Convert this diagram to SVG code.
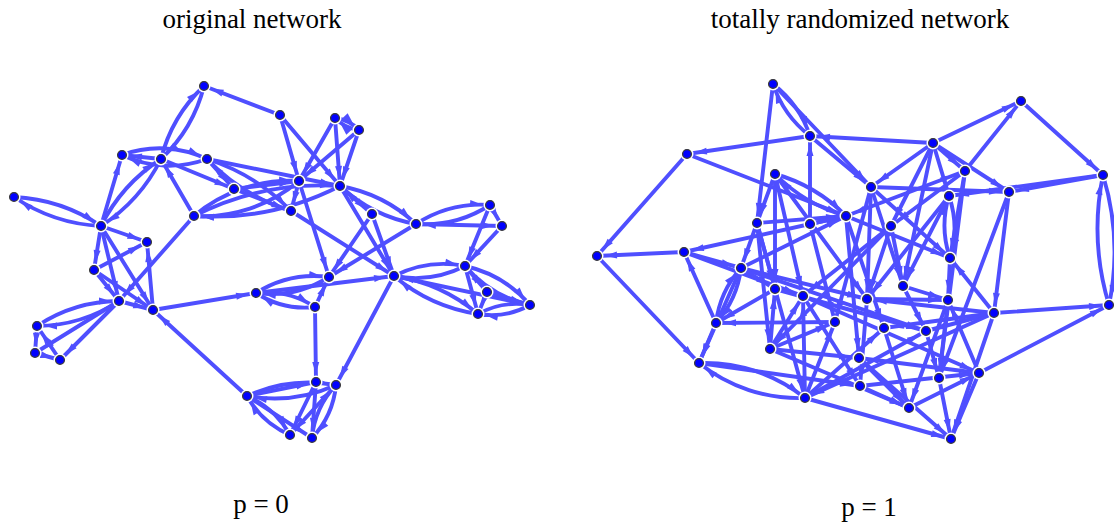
<svg xmlns="http://www.w3.org/2000/svg" width="1114" height="523" viewBox="0 0 1114 523">
<style>
.t{font-family:"Liberation Serif","Times New Roman",serif;font-size:27px;fill:#000;text-anchor:middle}
.e path{stroke:#4f4fff;stroke-width:3.9;fill:none;marker-end:url(#a);stroke-linecap:round}
.h{fill:#fff}
.c{fill:#0000ff;stroke:#3a3a3a;stroke-width:1.3}
</style>
<defs>
<marker id="a" markerUnits="userSpaceOnUse" markerWidth="40" markerHeight="12" viewBox="0 -6 40 12" refX="20" refY="0" orient="auto" overflow="visible">
<path d="M0,-3.5 L12,0 L0,3.5 Z" fill="#4f4fff"/>
</marker>
</defs>
<rect width="1114" height="523" fill="#fff"/>
<text class="t" x="252" y="28">original network</text>
<text class="t" x="860" y="28">totally randomized network</text>
<text class="t" x="261" y="513">p = 0</text>
<text class="t" x="869" y="516">p = 1</text>

<g id="connectors" class="e">
<path d="M204,86 A150,150 0 0 1 161,159"/><path d="M161,159 A150,150 0 0 1 204,86"/>
<path d="M122,155 A110,110 0 0 1 207,159"/><path d="M207,159 A110,110 0 0 1 122,155"/>
<path d="M161,159 A170,170 0 0 1 101,226"/><path d="M101,226 A170,170 0 0 1 161,159"/>
<path d="M14,197 A170,170 0 0 1 101,226"/><path d="M101,226 A170,170 0 0 1 14,197"/>
<path d="M207,159 A200,200 0 0 1 291,211"/><path d="M291,211 A200,200 0 0 1 207,159"/>
<path d="M194,216 A150,150 0 0 1 299,181"/><path d="M299,181 A150,150 0 0 1 194,216"/>
<path d="M194,216 A280,280 0 0 1 340,186"/><path d="M340,186 A280,280 0 0 1 194,216"/>
<path d="M335,118 A40,40 0 0 1 359,130"/><path d="M359,130 A40,40 0 0 1 335,118"/>
<path d="M340,186 A150,150 0 0 1 416,224"/><path d="M416,224 A150,150 0 0 1 340,186"/>
<path d="M416,224 A120,120 0 0 1 490,205"/><path d="M490,205 A120,120 0 0 1 416,224"/>
<path d="M394,276 A110,110 0 0 1 465,266"/><path d="M465,266 A110,110 0 0 1 394,276"/>
<path d="M394,276 A170,170 0 0 1 478,314"/><path d="M478,314 A170,170 0 0 1 394,276"/>
<path d="M465,266 A120,120 0 0 1 530,305"/><path d="M530,305 A120,120 0 0 1 465,266"/>
<path d="M478,314 A80,80 0 0 1 530,305"/><path d="M530,305 A80,80 0 0 1 478,314"/>
<path d="M256,293 A110,110 0 0 1 329,277"/><path d="M329,277 A110,110 0 0 1 256,293"/>
<path d="M256,293 A90,90 0 0 1 315,307"/><path d="M315,307 A90,90 0 0 1 256,293"/>
<path d="M119,301 A150,150 0 0 1 37,326"/><path d="M37,326 A150,150 0 0 1 119,301"/>
<path d="M247,396 A150,150 0 0 1 336,385"/><path d="M336,385 A150,150 0 0 1 247,396"/>
<path d="M247,396 A90,90 0 0 1 290,435"/><path d="M290,435 A90,90 0 0 1 247,396"/>
<path d="M336,385 A90,90 0 0 1 312,438"/><path d="M312,438 A90,90 0 0 1 336,385"/>
<path d="M280,115 L204,86"/><path d="M101,226 L122,155"/><path d="M161,159 L122,155"/>
<path d="M161,159 L234,189"/><path d="M194,216 L161,159"/><path d="M101,226 L147,242"/>
<path d="M101,226 L94,270"/><path d="M101,226 L153,310"/><path d="M101,226 L119,301"/>
<path d="M153,310 L147,242"/><path d="M94,270 L147,242"/><path d="M194,216 L119,301"/>
<path d="M94,270 L153,310"/><path d="M94,270 L119,301"/><path d="M119,301 L153,310"/>
<path d="M153,310 L256,293"/><path d="M247,396 L153,310"/><path d="M119,301 L60,360"/>
<path d="M119,301 L35,353"/><path d="M37,326 L35,353"/><path d="M35,353 L60,360"/>
<path d="M60,360 L37,326"/><path d="M207,159 L340,186"/><path d="M234,189 L291,211"/>
<path d="M234,189 L299,181"/><path d="M280,115 L299,181"/><path d="M280,115 L340,186"/>
<path d="M335,118 L299,181"/><path d="M359,130 L299,181"/><path d="M335,118 L340,186"/>
<path d="M359,130 L340,186"/><path d="M299,181 L291,211"/><path d="M299,181 L329,277"/>
<path d="M340,186 L372,214"/><path d="M340,186 L394,276"/><path d="M372,214 L394,276"/>
<path d="M372,214 L329,277"/><path d="M416,224 L329,277"/><path d="M291,211 L394,276"/>
<path d="M416,224 L502,226"/><path d="M490,205 L502,226"/><path d="M490,205 L465,266"/>
<path d="M502,226 L465,266"/><path d="M394,276 L530,305"/><path d="M465,266 L478,314"/>
<path d="M465,266 L487,292"/><path d="M487,292 L478,314"/><path d="M487,292 L530,305"/>
<path d="M256,293 L394,276"/><path d="M315,307 L329,277"/><path d="M315,307 L316,382"/>
<path d="M394,276 L336,385"/><path d="M247,396 L316,382"/><path d="M247,396 L312,438"/>
<path d="M316,382 L290,435"/><path d="M316,382 L312,438"/><path d="M336,385 L290,435"/>
<path d="M207,159 L234,189"/>
<path d="M773,84 A110,110 0 0 1 810,136"/><path d="M810,136 A110,110 0 0 1 773,84"/>
<path d="M775,174 A160,160 0 0 1 846,216"/><path d="M846,216 A160,160 0 0 1 775,174"/>
<path d="M1103,175 A264,264 0 0 1 1109,305"/><path d="M1109,305 A264,264 0 0 1 1103,175"/>
<path d="M949,196 A100,100 0 0 1 950,258"/><path d="M950,258 A100,100 0 0 1 949,196"/>
<path d="M699,363 A160,160 0 0 1 805,398"/><path d="M805,398 A160,160 0 0 1 699,363"/>
<path d="M741,268 A100,100 0 0 1 716,323"/><path d="M716,323 A100,100 0 0 1 741,268"/>
<path d="M773,84 L757,223"/><path d="M773,84 L871,187"/><path d="M810,136 L687,154"/>
<path d="M933,143 L810,136"/><path d="M810,224 L810,136"/><path d="M810,136 L871,187"/>
<path d="M687,154 L597,256"/><path d="M687,154 L846,216"/><path d="M684,252 L597,256"/>
<path d="M597,256 L699,363"/><path d="M716,323 L684,252"/><path d="M684,252 L803,296"/>
<path d="M846,216 L684,252"/><path d="M684,252 L741,268"/><path d="M775,174 L757,223"/>
<path d="M775,174 L775,289"/><path d="M757,223 L741,268"/><path d="M757,223 L846,216"/>
<path d="M810,224 L846,216"/><path d="M810,224 L835,322"/><path d="M933,143 L1021,101"/>
<path d="M965,171 L1021,101"/><path d="M1021,101 L1103,175"/><path d="M933,143 L965,171"/>
<path d="M933,143 L891,226"/><path d="M933,143 L903,286"/><path d="M933,143 L949,196"/>
<path d="M933,143 L871,187"/><path d="M933,143 L1009,192"/><path d="M965,171 L846,216"/>
<path d="M965,171 L950,258"/><path d="M965,171 L891,226"/><path d="M871,187 L1009,192"/>
<path d="M1103,175 L1009,192"/><path d="M1103,175 L949,196"/><path d="M1009,192 L994,313"/>
<path d="M994,313 L1109,305"/><path d="M979,373 L1109,305"/><path d="M994,313 L950,258"/>
<path d="M950,258 L948,300"/><path d="M871,187 L950,258"/><path d="M846,216 L950,258"/>
<path d="M871,187 L867,299"/><path d="M871,187 L903,286"/><path d="M891,226 L903,286"/>
<path d="M891,226 L867,299"/><path d="M994,313 L867,299"/><path d="M994,313 L884,328"/>
<path d="M994,313 L926,331"/><path d="M994,313 L805,398"/><path d="M994,313 L951,439"/>
<path d="M979,373 L948,300"/><path d="M979,373 L859,358"/><path d="M860,386 L979,373"/>
<path d="M909,408 L979,373"/><path d="M979,373 L951,439"/><path d="M859,358 L951,439"/>
<path d="M805,398 L951,439"/><path d="M699,363 L860,386"/><path d="M716,323 L699,363"/>
<path d="M741,268 L699,363"/><path d="M770,349 L775,289"/><path d="M770,349 L803,296"/>
<path d="M770,349 L835,322"/><path d="M770,349 L859,358"/><path d="M805,398 L803,296"/>
<path d="M805,398 L835,322"/><path d="M805,398 L884,328"/><path d="M805,398 L926,331"/>
<path d="M835,322 L716,323"/><path d="M775,289 L716,323"/><path d="M741,268 L846,216"/>
<path d="M741,268 L867,299"/><path d="M757,223 L770,349"/><path d="M757,223 L775,289"/>
<path d="M867,299 L948,300"/><path d="M903,286 L948,300"/><path d="M903,286 L926,331"/>
<path d="M948,300 L909,408"/><path d="M884,328 L909,408"/><path d="M926,331 L939,378"/>
<path d="M939,378 L951,439"/><path d="M948,300 L939,378"/><path d="M949,196 L903,286"/>
<path d="M949,196 L867,299"/><path d="M891,226 L803,296"/><path d="M891,226 L770,349"/>
<path d="M846,216 L884,328"/><path d="M846,216 L859,358"/><path d="M871,187 L835,322"/>
<path d="M775,289 L926,331"/><path d="M803,296 L860,386"/><path d="M803,296 L979,373"/>
<path d="M741,268 L926,331"/><path d="M770,349 L909,408"/><path d="M860,386 L909,408"/>
<path d="M859,358 L909,408"/><path d="M867,299 L860,386"/><path d="M775,174 L867,299"/>
<path d="M775,174 L803,296"/><path d="M741,268 L775,289"/><path d="M757,223 L805,398"/>
<path d="M965,171 L939,378"/><path d="M1009,192 L939,378"/>
</g>

<g id="nodes">
<g id="L1"><circle class="h" cx="204" cy="86" r="6.5"/><circle class="c" cx="204" cy="86" r="4.4"/></g>
<g id="L2"><circle class="h" cx="280" cy="115" r="6.5"/><circle class="c" cx="280" cy="115" r="4.4"/></g>
<g id="L3"><circle class="h" cx="335" cy="118" r="6.5"/><circle class="c" cx="335" cy="118" r="4.4"/></g>
<g id="L4"><circle class="h" cx="359" cy="130" r="6.5"/><circle class="c" cx="359" cy="130" r="4.4"/></g>
<g id="L5"><circle class="h" cx="122" cy="155" r="6.5"/><circle class="c" cx="122" cy="155" r="4.4"/></g>
<g id="L6"><circle class="h" cx="161" cy="159" r="6.5"/><circle class="c" cx="161" cy="159" r="4.4"/></g>
<g id="L7"><circle class="h" cx="207" cy="159" r="6.5"/><circle class="c" cx="207" cy="159" r="4.4"/></g>
<g id="L8"><circle class="h" cx="234" cy="189" r="6.5"/><circle class="c" cx="234" cy="189" r="4.4"/></g>
<g id="L9"><circle class="h" cx="299" cy="181" r="6.5"/><circle class="c" cx="299" cy="181" r="4.4"/></g>
<g id="L10"><circle class="h" cx="340" cy="186" r="6.5"/><circle class="c" cx="340" cy="186" r="4.4"/></g>
<g id="L11"><circle class="h" cx="291" cy="211" r="6.5"/><circle class="c" cx="291" cy="211" r="4.4"/></g>
<g id="L12"><circle class="h" cx="372" cy="214" r="6.5"/><circle class="c" cx="372" cy="214" r="4.4"/></g>
<g id="L13"><circle class="h" cx="416" cy="224" r="6.5"/><circle class="c" cx="416" cy="224" r="4.4"/></g>
<g id="L14"><circle class="h" cx="490" cy="205" r="6.5"/><circle class="c" cx="490" cy="205" r="4.4"/></g>
<g id="L15"><circle class="h" cx="502" cy="226" r="6.5"/><circle class="c" cx="502" cy="226" r="4.4"/></g>
<g id="L16"><circle class="h" cx="14" cy="197" r="6.5"/><circle class="c" cx="14" cy="197" r="4.4"/></g>
<g id="L17"><circle class="h" cx="101" cy="226" r="6.5"/><circle class="c" cx="101" cy="226" r="4.4"/></g>
<g id="L18"><circle class="h" cx="147" cy="242" r="6.5"/><circle class="c" cx="147" cy="242" r="4.4"/></g>
<g id="L19"><circle class="h" cx="194" cy="216" r="6.5"/><circle class="c" cx="194" cy="216" r="4.4"/></g>
<g id="L20"><circle class="h" cx="94" cy="270" r="6.5"/><circle class="c" cx="94" cy="270" r="4.4"/></g>
<g id="L21"><circle class="h" cx="119" cy="301" r="6.5"/><circle class="c" cx="119" cy="301" r="4.4"/></g>
<g id="L22"><circle class="h" cx="153" cy="310" r="6.5"/><circle class="c" cx="153" cy="310" r="4.4"/></g>
<g id="L23"><circle class="h" cx="256" cy="293" r="6.5"/><circle class="c" cx="256" cy="293" r="4.4"/></g>
<g id="L24"><circle class="h" cx="315" cy="307" r="6.5"/><circle class="c" cx="315" cy="307" r="4.4"/></g>
<g id="L25"><circle class="h" cx="329" cy="277" r="6.5"/><circle class="c" cx="329" cy="277" r="4.4"/></g>
<g id="L26"><circle class="h" cx="394" cy="276" r="6.5"/><circle class="c" cx="394" cy="276" r="4.4"/></g>
<g id="L27"><circle class="h" cx="465" cy="266" r="6.5"/><circle class="c" cx="465" cy="266" r="4.4"/></g>
<g id="L28"><circle class="h" cx="487" cy="292" r="6.5"/><circle class="c" cx="487" cy="292" r="4.4"/></g>
<g id="L29"><circle class="h" cx="478" cy="314" r="6.5"/><circle class="c" cx="478" cy="314" r="4.4"/></g>
<g id="L30"><circle class="h" cx="530" cy="305" r="6.5"/><circle class="c" cx="530" cy="305" r="4.4"/></g>
<g id="L31"><circle class="h" cx="37" cy="326" r="6.5"/><circle class="c" cx="37" cy="326" r="4.4"/></g>
<g id="L32"><circle class="h" cx="35" cy="353" r="6.5"/><circle class="c" cx="35" cy="353" r="4.4"/></g>
<g id="L33"><circle class="h" cx="60" cy="360" r="6.5"/><circle class="c" cx="60" cy="360" r="4.4"/></g>
<g id="L34"><circle class="h" cx="247" cy="396" r="6.5"/><circle class="c" cx="247" cy="396" r="4.4"/></g>
<g id="L35"><circle class="h" cx="316" cy="382" r="6.5"/><circle class="c" cx="316" cy="382" r="4.4"/></g>
<g id="L36"><circle class="h" cx="336" cy="385" r="6.5"/><circle class="c" cx="336" cy="385" r="4.4"/></g>
<g id="L37"><circle class="h" cx="290" cy="435" r="6.5"/><circle class="c" cx="290" cy="435" r="4.4"/></g>
<g id="L38"><circle class="h" cx="312" cy="438" r="6.5"/><circle class="c" cx="312" cy="438" r="4.4"/></g>

<g id="R1"><circle class="h" cx="773" cy="84" r="6.5"/><circle class="c" cx="773" cy="84" r="4.4"/></g>
<g id="R2"><circle class="h" cx="810" cy="136" r="6.5"/><circle class="c" cx="810" cy="136" r="4.4"/></g>
<g id="R3"><circle class="h" cx="687" cy="154" r="6.5"/><circle class="c" cx="687" cy="154" r="4.4"/></g>
<g id="R4"><circle class="h" cx="775" cy="174" r="6.5"/><circle class="c" cx="775" cy="174" r="4.4"/></g>
<g id="R5"><circle class="h" cx="757" cy="223" r="6.5"/><circle class="c" cx="757" cy="223" r="4.4"/></g>
<g id="R6"><circle class="h" cx="810" cy="224" r="6.5"/><circle class="c" cx="810" cy="224" r="4.4"/></g>
<g id="R7"><circle class="h" cx="846" cy="216" r="6.5"/><circle class="c" cx="846" cy="216" r="4.4"/></g>
<g id="R8"><circle class="h" cx="597" cy="256" r="6.5"/><circle class="c" cx="597" cy="256" r="4.4"/></g>
<g id="R9"><circle class="h" cx="684" cy="252" r="6.5"/><circle class="c" cx="684" cy="252" r="4.4"/></g>
<g id="R10"><circle class="h" cx="741" cy="268" r="6.5"/><circle class="c" cx="741" cy="268" r="4.4"/></g>
<g id="R11"><circle class="h" cx="1021" cy="101" r="6.5"/><circle class="c" cx="1021" cy="101" r="4.4"/></g>
<g id="R12"><circle class="h" cx="933" cy="143" r="6.5"/><circle class="c" cx="933" cy="143" r="4.4"/></g>
<g id="R13"><circle class="h" cx="965" cy="171" r="6.5"/><circle class="c" cx="965" cy="171" r="4.4"/></g>
<g id="R14"><circle class="h" cx="871" cy="187" r="6.5"/><circle class="c" cx="871" cy="187" r="4.4"/></g>
<g id="R15"><circle class="h" cx="1009" cy="192" r="6.5"/><circle class="c" cx="1009" cy="192" r="4.4"/></g>
<g id="R16"><circle class="h" cx="1103" cy="175" r="6.5"/><circle class="c" cx="1103" cy="175" r="4.4"/></g>
<g id="R17"><circle class="h" cx="949" cy="196" r="6.5"/><circle class="c" cx="949" cy="196" r="4.4"/></g>
<g id="R18"><circle class="h" cx="891" cy="226" r="6.5"/><circle class="c" cx="891" cy="226" r="4.4"/></g>
<g id="R19"><circle class="h" cx="950" cy="258" r="6.5"/><circle class="c" cx="950" cy="258" r="4.4"/></g>
<g id="R20"><circle class="h" cx="903" cy="286" r="6.5"/><circle class="c" cx="903" cy="286" r="4.4"/></g>
<g id="R21"><circle class="h" cx="867" cy="299" r="6.5"/><circle class="c" cx="867" cy="299" r="4.4"/></g>
<g id="R22"><circle class="h" cx="948" cy="300" r="6.5"/><circle class="c" cx="948" cy="300" r="4.4"/></g>
<g id="R23"><circle class="h" cx="994" cy="313" r="6.5"/><circle class="c" cx="994" cy="313" r="4.4"/></g>
<g id="R24"><circle class="h" cx="1109" cy="305" r="6.5"/><circle class="c" cx="1109" cy="305" r="4.4"/></g>
<g id="R25"><circle class="h" cx="775" cy="289" r="6.5"/><circle class="c" cx="775" cy="289" r="4.4"/></g>
<g id="R26"><circle class="h" cx="803" cy="296" r="6.5"/><circle class="c" cx="803" cy="296" r="4.4"/></g>
<g id="R27"><circle class="h" cx="716" cy="323" r="6.5"/><circle class="c" cx="716" cy="323" r="4.4"/></g>
<g id="R28"><circle class="h" cx="835" cy="322" r="6.5"/><circle class="c" cx="835" cy="322" r="4.4"/></g>
<g id="R29"><circle class="h" cx="770" cy="349" r="6.5"/><circle class="c" cx="770" cy="349" r="4.4"/></g>
<g id="R30"><circle class="h" cx="699" cy="363" r="6.5"/><circle class="c" cx="699" cy="363" r="4.4"/></g>
<g id="R31"><circle class="h" cx="805" cy="398" r="6.5"/><circle class="c" cx="805" cy="398" r="4.4"/></g>
<g id="R32"><circle class="h" cx="860" cy="386" r="6.5"/><circle class="c" cx="860" cy="386" r="4.4"/></g>
<g id="R33"><circle class="h" cx="884" cy="328" r="6.5"/><circle class="c" cx="884" cy="328" r="4.4"/></g>
<g id="R34"><circle class="h" cx="926" cy="331" r="6.5"/><circle class="c" cx="926" cy="331" r="4.4"/></g>
<g id="R35"><circle class="h" cx="859" cy="358" r="6.5"/><circle class="c" cx="859" cy="358" r="4.4"/></g>
<g id="R36"><circle class="h" cx="979" cy="373" r="6.5"/><circle class="c" cx="979" cy="373" r="4.4"/></g>
<g id="R37"><circle class="h" cx="939" cy="378" r="6.5"/><circle class="c" cx="939" cy="378" r="4.4"/></g>
<g id="R38"><circle class="h" cx="909" cy="408" r="6.5"/><circle class="c" cx="909" cy="408" r="4.4"/></g>
<g id="R39"><circle class="h" cx="951" cy="439" r="6.5"/><circle class="c" cx="951" cy="439" r="4.4"/></g>
</g>
</svg>
